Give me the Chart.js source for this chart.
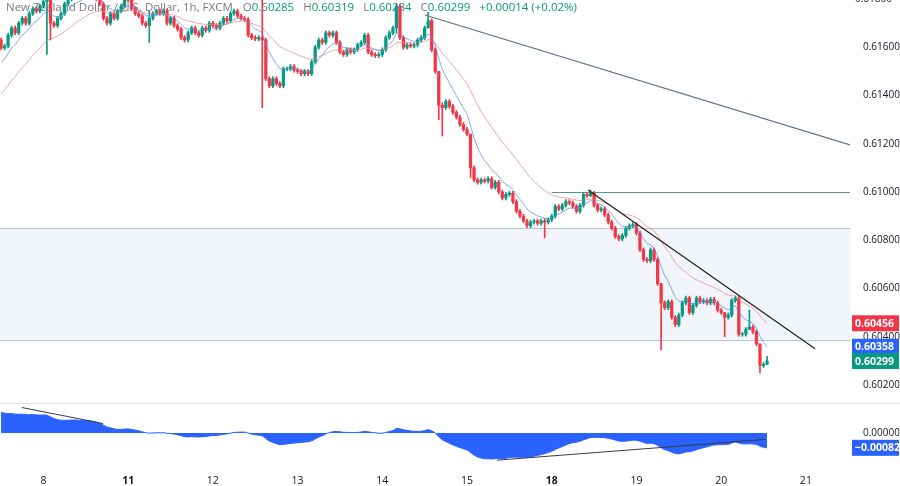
<!DOCTYPE html>
<html><head><meta charset="utf-8">
<script src="https://cdn.jsdelivr.net/npm/chart.js@4/dist/chart.umd.min.js"></script>
<style>html,body{margin:0;padding:0;background:#fff}#w{width:900px;height:486px}</style>
</head><body><div id="w"><canvas id="c"></canvas></div>
<script>
// prices in points above 0.60000 (1 point = 0.00001)
const dayLabels = ['8','11','12','13','14','15','18','19','20','21'];
const boldDays = ['11','18'];
const priceTicks = [200,400,600,800,1000,1200,1400,1600];
const topTick = 1800;
const closes = [1597,1605,1650,1680,1660,1700,1720,1700,1740,1760,1750,1770,1790,1800,1700,1690,1720,1740,1780,1800,
1820,1830,1810,1825,1840,1830,1815,1800,1780,1720,1700,1740,1720,1750,1770,1800,1795,1760,1740,1730,
1700,1690,1720,1740,1750,1740,1750,1700,1720,1690,1675,1640,1630,1660,1680,1660,1650,1680,1670,1700,
1690,1680,1700,1720,1710,1740,1750,1730,1720,1715,1650,1640,1635,1640,1630,1470,1440,1470,1450,1440,
1510,1510,1520,1505,1500,1490,1500,1490,1540,1600,1630,1620,1660,1650,1660,1620,1580,1570,1590,1580,
1590,1610,1620,1650,1580,1570,1565,1570,1590,1640,1660,1680,1770,1640,1600,1610,1605,1610,1630,1640,
1680,1710,1590,1500,1360,1350,1375,1355,1330,1310,1280,1260,1240,1100,1050,1040,1050,1045,1055,1020,
1040,1000,975,990,995,960,920,900,880,860,875,880,870,880,875,885,900,940,930,945,
960,955,940,920,945,990,985,995,945,925,930,905,875,850,815,805,820,850,860,865,
830,760,720,715,760,720,620,540,520,545,480,450,490,540,560,500,530,560,545,550,
540,555,540,510,500,480,490,550,560,410,410,430,440,420,370,280,285,299];
const firstOpen = 1630;
const lastOpen = 285;
const wickPts = 8;
// [candle index, high, low] for long wicks
const spikes = [[13,1810,1570],[14,1800,1630],[42,1750,1620],[74,1796,1350],[112,1780,1660],[121,1745,1700],
[124,1500,1300],[125,1370,1232],[133,1240,1060],[154,890,810],[167,1008,980],[187,545,345],
[205,500,400],[212,510,430],[215,370,250],[217,319,284]];
const trendA = [[120.1,1734],[240.5,1195]];
const trendB = [[166.3,1008],[230.6,350]];
const oscTrendA = [[5.9,140],[28.9,52]];
const oscTrendB = [[140.5,-150],[216.4,-36]];
const level1 = 1000, zoneTop = 851, zoneBot = 388;
const fastLen = 8, slowLen = 23, fastSeed = 1520, slowSeed = 1390;
const oscFastLen = 12, oscSlowLen = 26, oscFastSeed = 1560, oscSlowSeed = 1440;

const N = closes.length;
const opens = closes.map((c,i)=> i===0 ? firstOpen : closes[i-1]);
opens[N-1]=lastOpen;
const highs = closes.map((c,i)=> Math.max(c,opens[i])+wickPts);
const lows = closes.map((c,i)=> Math.min(c,opens[i])-wickPts);
spikes.forEach(([i,h,l])=>{highs[i]=Math.max(h,closes[i],opens[i]);lows[i]=Math.min(l,closes[i],opens[i]);});
function ema(len, seed){const k=2/(len+1);let v=seed;return closes.map(c=>(v=v+k*(c-v)));}
const fast = ema(fastLen, fastSeed), slow = ema(slowLen, slowSeed);
const oF = ema(oscFastLen, oscFastSeed), oS = ema(oscSlowLen, oscSlowSeed);
const osc = oF.map((f,i)=>f-oS[i]);
const UP='#089981', DN='#f23645';
const col = closes.map((c,i)=> c>=opens[i]?UP:DN);
const fmt = v => (0.6+v/1e5).toFixed(5);
const FONT='"Open Sans", sans-serif';

const deco = {
 id:'deco',
 beforeDatasetsDraw(ch){
  const {ctx,chartArea:a,scales:{x,y,y2}}=ch;
  ctx.save();
  const yt=y.getPixelForValue(zoneTop), yb=y.getPixelForValue(zoneBot);
  ctx.fillStyle='rgba(225,233,245,0.45)';ctx.fillRect(0,yt,a.right,yb-yt);
  ctx.strokeStyle='#b8c4d4';ctx.lineWidth=1;
  [yt,yb].forEach(p=>{ctx.beginPath();ctx.moveTo(0,Math.round(p)+.5);ctx.lineTo(a.right,Math.round(p)+.5);ctx.stroke();});
  ctx.strokeStyle='#4e9a8e';const yl=Math.round(y.getPixelForValue(level1))+.5;
  ctx.beginPath();ctx.moveTo(x.getPixelForValue(156),yl);ctx.lineTo(a.right,yl);ctx.stroke();
  ctx.strokeStyle='#e0e3eb';const ys=Math.round(y.bottom)+.5;
  ctx.beginPath();ctx.moveTo(0,ys);ctx.lineTo(900,ys);ctx.stroke();
  ctx.font='11.5px '+FONT;ctx.fillStyle='#787b86';ctx.textBaseline='middle';
  const t='New Zealand Dollar / U.S. Dollar, 1h, FXCM';
  ctx.fillText(t,6,8);
  let px=6+ctx.measureText(t).width+10;
  const parts=[['O',fmt(opens[N-1])],['H',fmt(highs[N-1])],['L',fmt(lows[N-1])],['C',fmt(closes[N-1])]];
  parts.forEach(([k,v])=>{ctx.fillStyle='#787b86';ctx.fillText(k,px,8);px+=ctx.measureText(k).width;ctx.fillStyle=UP;ctx.fillText(v,px,8);px+=ctx.measureText(v).width+9;});
  ctx.fillText('+0.00014 (+0.02%)',px,8);
  ctx.restore();
 },
 afterDraw(ch){
  const {ctx,scales:{y,y2}}=ch;
  ctx.save();
  ctx.font='10px '+FONT;ctx.textBaseline='middle';ctx.fillStyle='#131722';
  ctx.fillText(fmt(topTick),855,y.getPixelForValue(topTick));
  ctx.font='bold 10.5px '+FONT;
  const badge=(v,scale,bg,txt)=>{const p=scale.getPixelForValue(v);ctx.fillStyle=bg;ctx.fillRect(852,p-8,47,16);ctx.fillStyle='#fff';ctx.fillText(txt,855,p+0.5);};
  badge(slow[N-1],y,DN,fmt(slow[N-1]));
  badge(fast[N-1],y,'#2962ff',fmt(fast[N-1]));
  badge(closes[N-1],y,UP,fmt(closes[N-1]));
  badge(osc[N-1],y2,'#2962ff',(osc[N-1]/1e5).toFixed(5).replace('-','\u2212'));
  ctx.restore();
 }
};

const idx=[...Array(N).keys()];
const tickFont={family:FONT,size:10};
const noPad=s=>{s.width=50;s.paddingTop=0;s.paddingBottom=0;};
new Chart(document.getElementById('c'),{
 data:{datasets:[
  {type:'line',data:idx.map(i=>({x:i,y:osc[i]})),yAxisID:'y2',borderColor:'#2962ff',backgroundColor:'#2962ff',borderWidth:1,pointRadius:0,fill:'origin',tension:0.3,order:5},
  {type:'line',data:oscTrendA.map(([a,b])=>({x:a,y:b})),yAxisID:'y2',borderColor:'#363a45',borderWidth:1,pointRadius:0,order:1},
  {type:'line',data:oscTrendB.map(([a,b])=>({x:a,y:b})),yAxisID:'y2',borderColor:'#363a45',borderWidth:1,pointRadius:0,order:1},
  {type:'bar',data:idx.map(i=>({x:i,y:[lows[i],highs[i]]})),backgroundColor:col,barThickness:1,grouped:false,yAxisID:'y',order:4},
  {type:'bar',data:idx.map(i=>({x:i,y:[opens[i],closes[i]===opens[i]?closes[i]+1:closes[i]]})),backgroundColor:col,barThickness:2.6,grouped:false,yAxisID:'y',order:3},
  {type:'line',data:idx.map(i=>({x:i,y:fast[i]})),yAxisID:'y',borderColor:'rgba(90,140,230,0.75)',borderWidth:1,pointRadius:0,order:2},
  {type:'line',data:idx.map(i=>({x:i,y:slow[i]})),yAxisID:'y',borderColor:'rgba(235,130,130,0.7)',borderWidth:1,pointRadius:0,order:2},
  {type:'line',data:trendA.map(([a,b])=>({x:a,y:b})),yAxisID:'y',borderColor:'#5d7291',borderWidth:1.2,pointRadius:0,order:1},
  {type:'line',data:trendB.map(([a,b])=>({x:a,y:b})),yAxisID:'y',borderColor:'#1e1e1e',borderWidth:1.2,pointRadius:0,order:1}
 ]},
 plugins:[deco],
 options:{
  responsive:true,maintainAspectRatio:false,animation:false,
  layout:{padding:0},
  plugins:{legend:{display:false},tooltip:{enabled:false}},
  scales:{
   x:{type:'linear',min:-0.3,max:240.5,offset:false,
      afterBuildTicks:s=>{s.ticks=dayLabels.map((d,k)=>({value:12+24*k,label:d}));},
      afterFit:s=>{s.height=24;s.paddingLeft=0;s.paddingRight=0;},
      ticks:{autoSkip:false,maxRotation:0,color:'#131722',font:c=>({family:FONT,size:10.5,weight:boldDays.includes(c.tick&&c.tick.label)?'bold':'normal'}),callback:function(v,i){return dayLabels[i];},padding:5},
      grid:{display:false},border:{display:false}},
   y:{type:'linear',position:'right',stack:'v',stackWeight:403,min:125,max:1796,
      afterBuildTicks:s=>{s.ticks=priceTicks.map(v=>({value:v}));},
      afterFit:noPad,
      ticks:{color:'#131722',font:tickFont,callback:v=>fmt(v),padding:5},
      grid:{display:false},border:{display:false}},
   y2:{type:'linear',position:'right',stack:'v',stackWeight:59,min:-160,max:165,offset:false,
      afterBuildTicks:s=>{s.ticks=[{value:0}];},
      afterFit:noPad,
      ticks:{color:'#131722',font:tickFont,callback:v=>'0.00000',padding:5},
      grid:{display:false},border:{display:false}}
  }
 }
});
</script></body></html>
